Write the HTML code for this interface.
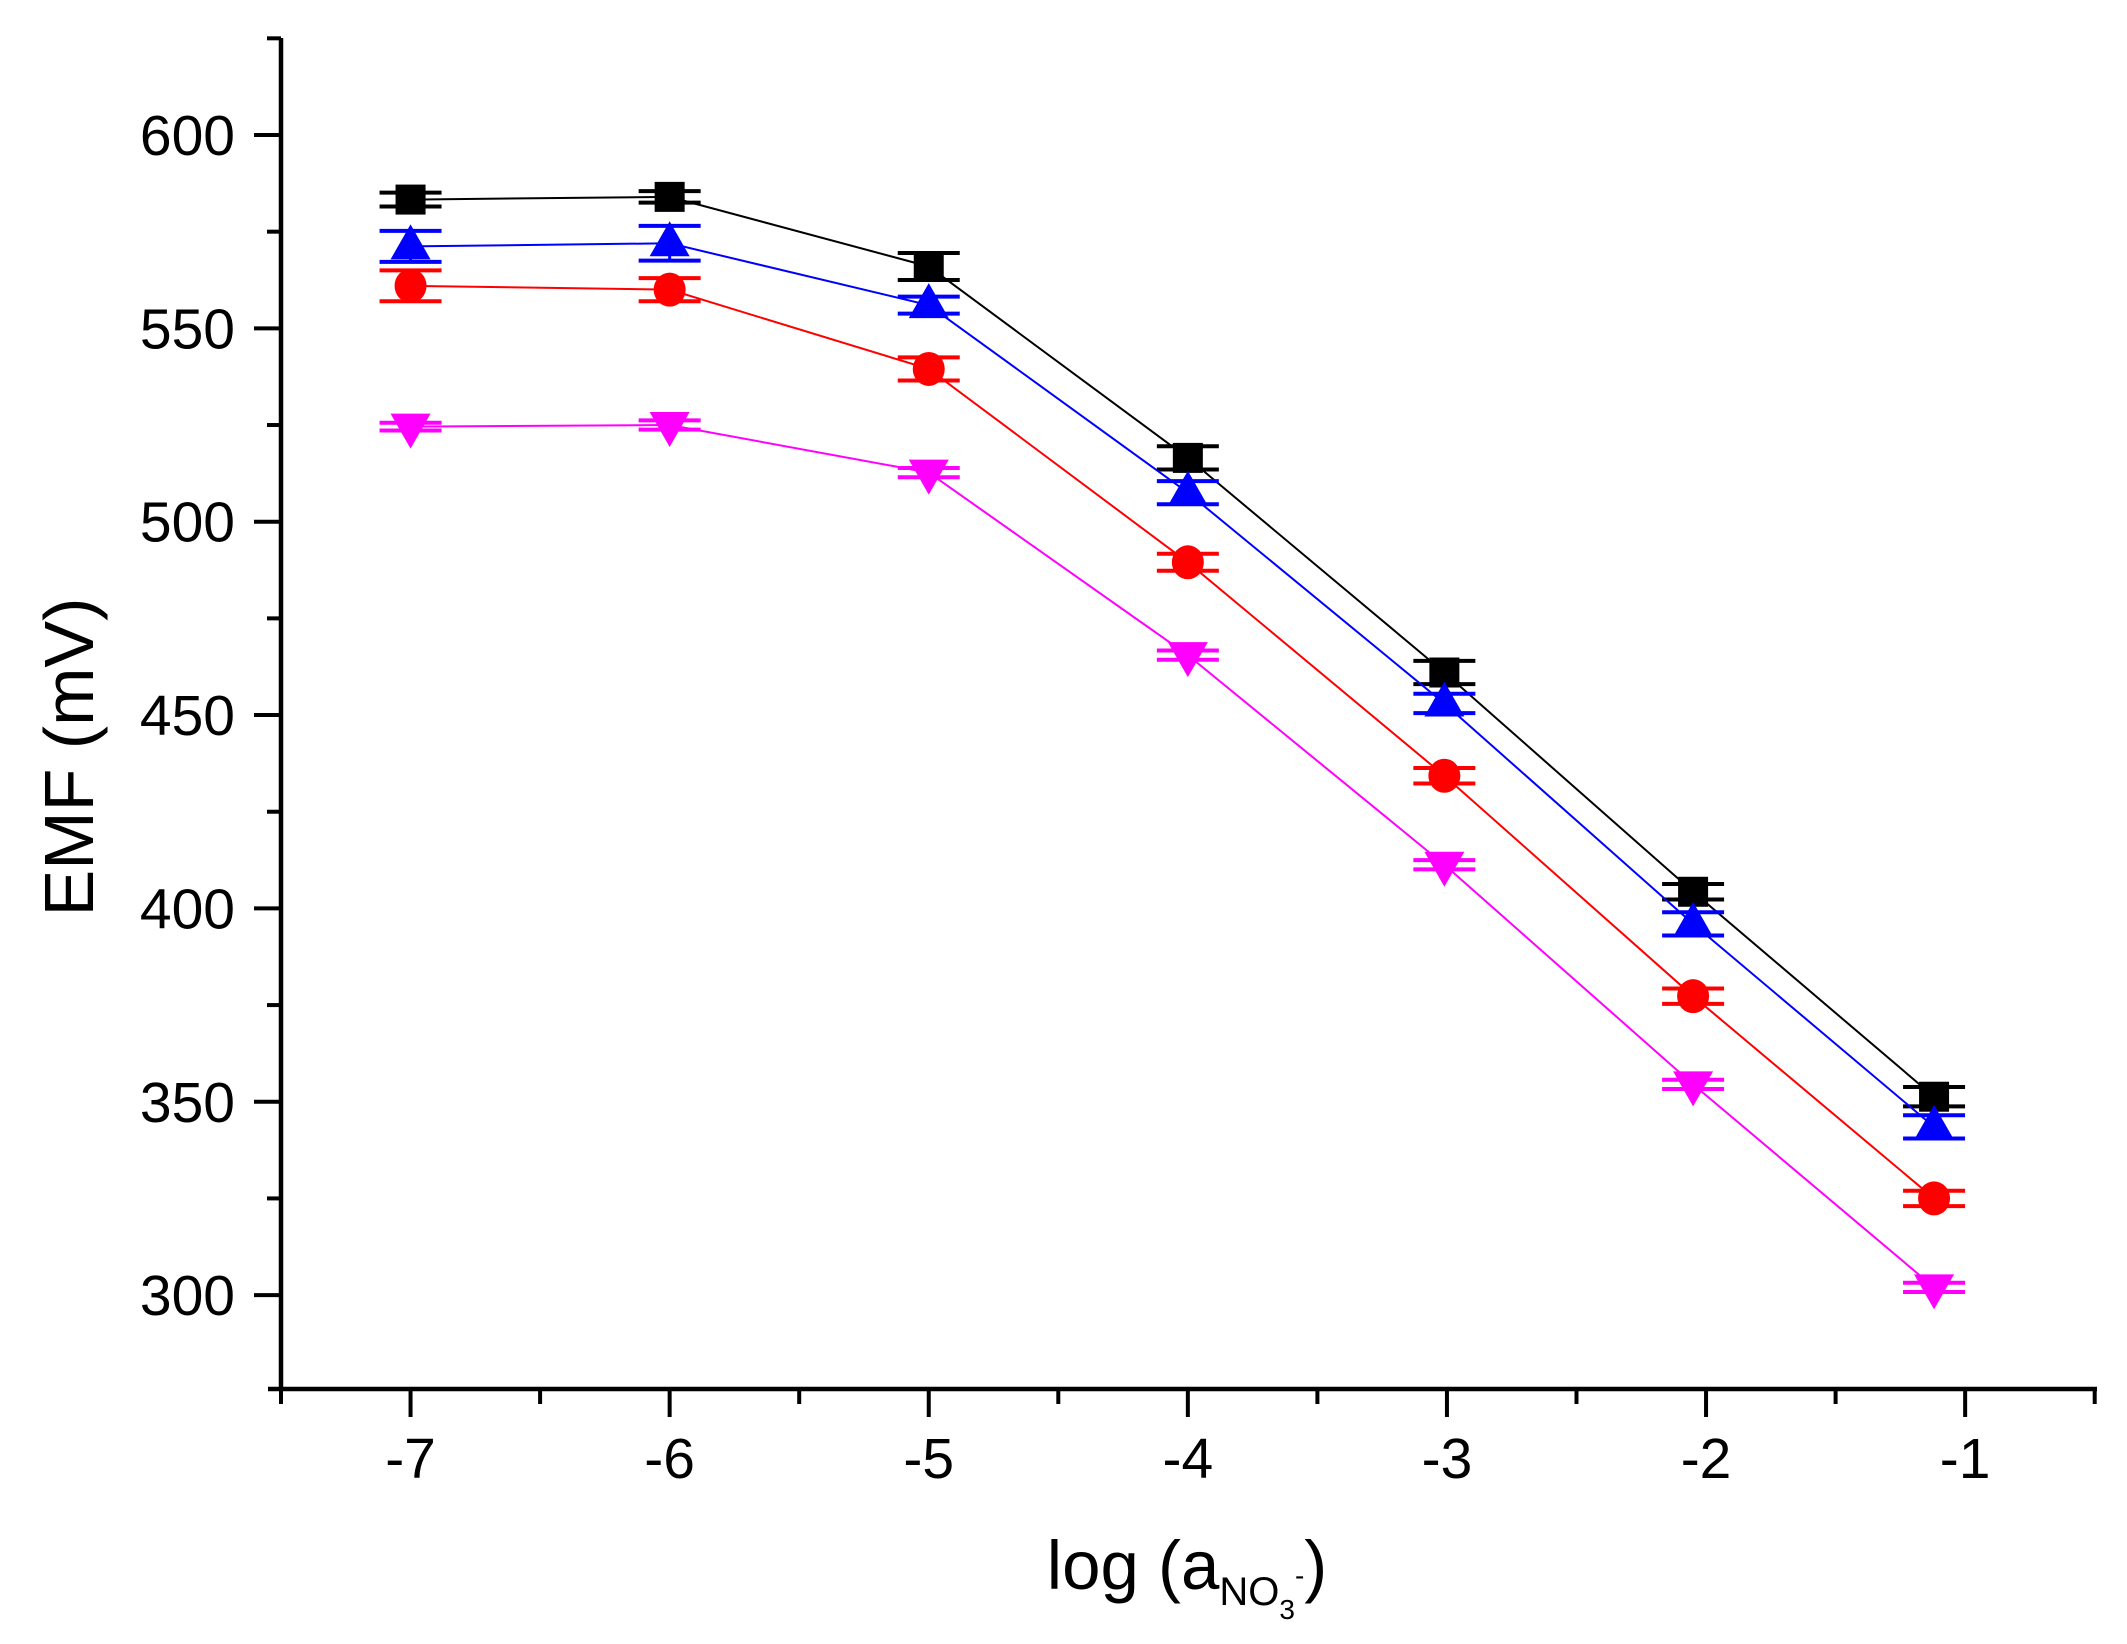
<!DOCTYPE html>
<html><head><meta charset="utf-8"><style>html,body{margin:0;padding:0;background:#fff}svg{display:block}</style></head>
<body>
<svg width="2127" height="1644" viewBox="0 0 2127 1644" xmlns="http://www.w3.org/2000/svg" font-family="Liberation Sans, Arial, sans-serif">
<rect width="2127" height="1644" fill="#fff"/>
<g id="axes" stroke="#000" stroke-width="4.5" fill="none">
<line x1="281" y1="38" x2="281" y2="1391"/>
<line x1="268" y1="1389" x2="2097" y2="1389"/>
</g>
<g id="content"></g>
<text x="93" y="757" font-size="70" text-anchor="middle" transform="rotate(-90 93 757)">EMF (mV)</text>
<text x="1187" y="1589" font-size="69" text-anchor="middle">log (a<tspan font-size="40" dy="16">NO</tspan><tspan font-size="28" dy="14">3</tspan><tspan font-size="28" dy="-34">-</tspan><tspan font-size="69" dy="4">)</tspan></text>
<script>
const NS="http://www.w3.org/2000/svg";
const g=document.getElementById('content');
const X=x=>281+(x+7.5)*259.1, Y=v=>135+(600-v)*3.867;
function el(t,a){const e=document.createElementNS(NS,t);for(const k in a)e.setAttribute(k,a[k]);g.appendChild(e);return e;}
for(let v=275;v<=625;v+=25){const y=Y(v);if(y<38||y>1389)continue;const maj=v%50==0;
 el('line',{x1:maj?254:267,y1:y,x2:281,y2:y,stroke:'#000','stroke-width':4});
 if(maj&&v>=300&&v<=600){const t=el('text',{x:235,y:y+20,'font-size':57,'text-anchor':'end'});t.textContent=v;}}
for(let x=-7.5;x<=-0.5;x+=0.5){const px=X(x);const maj=Math.abs(x-Math.round(x))<1e-6;
 el('line',{x1:px,y1:1389,x2:px,y2:maj?1417:1404,stroke:'#000','stroke-width':4});
 if(maj){const t=el('text',{x:px,y:1478,'font-size':57,'text-anchor':'middle'});t.textContent=x;}}
const xs=[-7,-6,-5,-4,-3.01,-2.05,-1.12];
const S=[
 {c:'#000',m:'sq',v:[583.3,584,566,516.5,461,404.3,351.3],e:[1.8,1.5,3.5,3,3,2,2.5]},
 {c:'#0000ff',m:'up',v:[571.2,572,556,507.5,453,396,343.5],e:[4,4.5,2.2,3,2.5,3,3]},
 {c:'#ff0000',m:'ci',v:[561,560,539.5,489.5,434.3,377.3,325],e:[4,3,3,2.2,2,2,2]},
 {c:'#ff00ff',m:'dn',v:[524.6,525,512.7,465.5,411.3,354.5,302],e:[1,1.2,1.2,1.2,1.2,1.2,1.2]}];
S.forEach(s=>{
 el('polyline',{points:xs.map((x,i)=>X(x)+','+Y(s.v[i])).join(' '),fill:'none',stroke:s.c,'stroke-width':2});
 xs.forEach((x,i)=>{const px=X(x),py=Y(s.v[i]),d=s.e[i]*3.867;
  el('line',{x1:px,y1:py-d,x2:px,y2:py+d,stroke:s.c,'stroke-width':3});
  el('line',{x1:px-31,y1:py-d,x2:px+31,y2:py-d,stroke:s.c,'stroke-width':4});
  el('line',{x1:px-31,y1:py+d,x2:px+31,y2:py+d,stroke:s.c,'stroke-width':4});
  if(s.m=='sq')el('rect',{x:px-15,y:py-15,width:30,height:30,fill:s.c});
  if(s.m=='ci')el('ellipse',{cx:px,cy:py,rx:16,ry:17,fill:s.c});
  if(s.m=='up')el('polygon',{points:`${px},${py-22} ${px-20},${py+13} ${px+20},${py+13}`,fill:s.c});
  if(s.m=='dn')el('polygon',{points:`${px},${py+22} ${px-20},${py-13} ${px+20},${py-13}`,fill:s.c});
 });
});
</script>
</svg>
</body></html>
